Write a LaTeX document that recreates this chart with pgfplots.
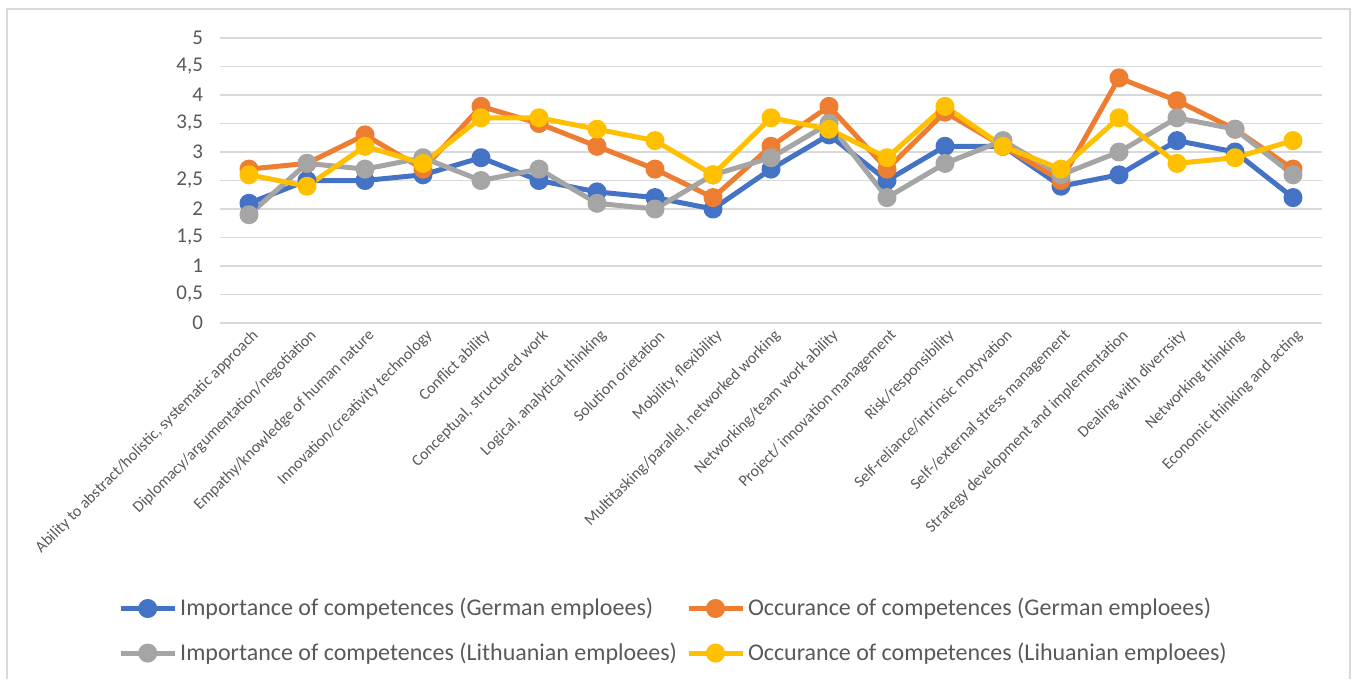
\documentclass[border=0pt]{standalone}
\usepackage{fontspec}
\setmainfont{Carlito}
\usepackage{pgfplots}
\pgfplotsset{compat=1.18}

\definecolor{sblue}{HTML}{4472C4}
\definecolor{sorange}{HTML}{ED7D31}
\definecolor{sgray}{HTML}{A5A5A5}
\definecolor{syellow}{HTML}{FFC000}
\definecolor{gridgray}{HTML}{D9D9D9}
\definecolor{txtgray}{HTML}{595959}

\begin{document}
\begin{tikzpicture}
% 1 px of the reference = 0.5pt
\useasboundingbox (0,0) rectangle (676pt,339.5pt);
\draw[gridgray, line width=1pt] (3.5pt,0) -- (3.5pt,335pt) -- (675pt,335pt) -- (675pt,0);
\begin{axis}[
    at={(110pt,178pt)}, anchor=south west,
    scale only axis,
    width=551pt, height=142.5pt,
    xmin=-0.5, xmax=18.5,
    ymin=0, ymax=5,
    ytick={0,0.5,...,5},
    xtick={0,...,18},
    xticklabels={
      {Ability to abstract/holistic, systematic approach},
      {Diplomacy/argumentation/negotiation},
      {Empathy/knowledge of human nature},
      {Innovation/creativity technology},
      {Conflict ability},
      {Conceptual, structured work},
      {Logical, analytical thinking},
      {Solution orietation},
      {Mobility, flexibility},
      {Multitasking/parallel, networked working},
      {Networking/team work ability},
      {Project/ innovation management},
      {Risk/responsibility},
      {Self-reliance/intrinsic motyvation},
      {Self-/external stress management},
      {Strategy development and implementation},
      {Dealing with diverrsity},
      {Networking thinking},
      {Economic thinking and acting}},
    axis line style={draw=none},
    major tick length=0pt,
    ymajorgrids,
    grid style={gridgray, line width=0.75pt},
    /pgf/number format/assume math mode=true,
    /pgf/number format/use comma,
    yticklabel style={font=\fontsize{10.5}{12}\selectfont, text=txtgray, xshift=-5pt},
    xticklabel style={font=\fontsize{8}{9}\selectfont, text=txtgray, rotate=45, anchor=east, inner sep=1pt, yshift=-6pt},
    every axis plot/.append style={line width=2.5pt, line join=round, mark=*, mark size=3.5pt, mark options={solid}},
    legend columns=2,
    legend cell align=left,
    legend style={at={(axis description cs:0.412,-1.08)}, anchor=center, draw=none, fill=none,
      font=\fontsize{12}{14}\selectfont, text=txtgray,
      nodes={inner xsep=1.5pt},
      /tikz/every even column/.append style={column sep=3pt},
      row sep=8pt},
    legend image code/.code={
      \draw[mark repeat=2,mark phase=2] plot coordinates {(0pt,0pt) (13.5pt,0pt) (27pt,0pt)};},
]
\addplot[sblue] coordinates {
(0,2.1) (1,2.5) (2,2.5) (3,2.6) (4,2.9) (5,2.5) (6,2.3) (7,2.2) (8,2.0) (9,2.7)
(10,3.3) (11,2.5) (12,3.1) (13,3.1) (14,2.4) (15,2.6) (16,3.2) (17,3.0) (18,2.2)};
\addlegendentry{Importance of competences (German emploees)}
\addplot[sorange] coordinates {
(0,2.7) (1,2.8) (2,3.3) (3,2.7) (4,3.8) (5,3.5) (6,3.1) (7,2.7) (8,2.2) (9,3.1)
(10,3.8) (11,2.7) (12,3.7) (13,3.1) (14,2.5) (15,4.3) (16,3.9) (17,3.4) (18,2.7)};
\addlegendentry{Occurance of competences (German emploees)}
\addplot[sgray] coordinates {
(0,1.9) (1,2.8) (2,2.7) (3,2.9) (4,2.5) (5,2.7) (6,2.1) (7,2.0) (8,2.6) (9,2.9)
(10,3.5) (11,2.2) (12,2.8) (13,3.2) (14,2.6) (15,3.0) (16,3.6) (17,3.4) (18,2.6)};
\addlegendentry{Importance of competences (Lithuanian emploees)}
\addplot[syellow] coordinates {
(0,2.6) (1,2.4) (2,3.1) (3,2.8) (4,3.6) (5,3.6) (6,3.4) (7,3.2) (8,2.6) (9,3.6)
(10,3.4) (11,2.9) (12,3.8) (13,3.1) (14,2.7) (15,3.6) (16,2.8) (17,2.9) (18,3.2)};
\addlegendentry{Occurance of competences (Lihuanian emploees)}
\end{axis}
\end{tikzpicture}
\end{document}
